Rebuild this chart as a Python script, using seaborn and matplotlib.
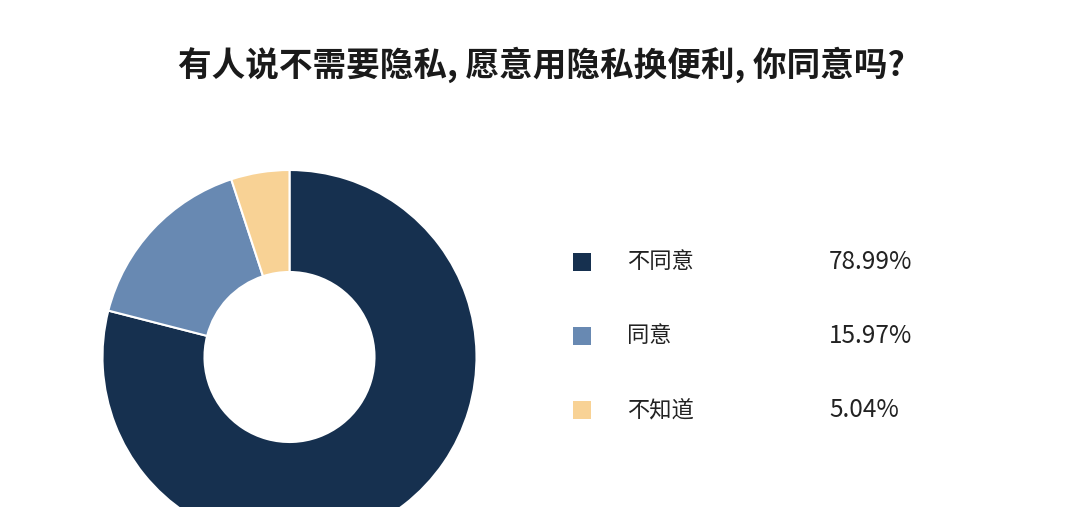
import matplotlib
matplotlib.use("Agg")
import matplotlib.pyplot as plt
import seaborn as sns
from matplotlib.patches import Rectangle

TITLE = "有人说不需要隐私, 愿意用隐私换便利, 你同意吗?"
labels = ["不同意", "同意", "不知道"]
shares = [78.99, 15.97, 5.04]
colors = ["#16304F", "#6889B2", "#F8D295"]

W, H = 1080, 507

sns.set_theme(style="white")
plt.rcParams["font.family"] = ["Noto Sans CJK SC", "DejaVu Sans"]

fig = plt.figure(figsize=(W / 100, H / 100), dpi=100)
fig.patch.set_facecolor("white")

# donut: centre (289, 357) px from top-left, outer radius 187 px
cx, cy, r = 289.5, 357, 187
ax = fig.add_axes([(cx - r) / W, (H - cy - r) / H, 2 * r / W, 2 * r / H])
ax.pie(shares, colors=colors, startangle=90, counterclock=False, radius=1,
       wedgeprops=dict(width=1 - 85 / 187, edgecolor="white", linewidth=1.5))
ax.set_xlim(-1, 1)
ax.set_ylim(-1, 1)
ax.set_aspect("equal")
ax.axis("off")

fig.text(541 / W, 1 - 65 / H, TITLE, ha="center", va="center",
         fontsize=24.2, fontweight="bold", color="#1a1a1a")

# legend rows
row_y = [262, 336, 410]
sq = 18
for lab, val, col, y in zip(labels, shares, colors, row_y):
    fig.patches.append(Rectangle((573 / W, (H - y - sq / 2) / H), sq / W, sq / H,
                                 transform=fig.transFigure, facecolor=col,
                                 edgecolor="none"))
    fig.text(627 / W, 1 - y / H, lab, ha="left", va="center",
             fontsize=16, color="#222222")
    fig.text(829 / W, 1 - y / H, f"{val:.2f}%", ha="left", va="center",
             fontsize=17.5, color="#222222")

fig.savefig("out.png", dpi=100, facecolor="white")
